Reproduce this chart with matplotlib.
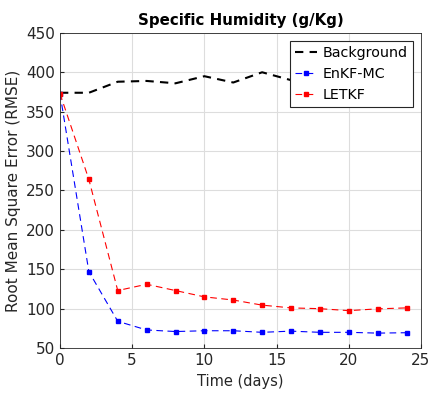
import matplotlib.pyplot as plt

# Tempo (dias) e RMSE de cada experimento
tempo = [0, 2, 4, 6, 8, 10, 12, 14, 16, 18, 20, 22, 24]
background = [374, 374, 388, 389, 386, 395, 387, 400, 390, 392, 388, 394, 390]
enkf_mc = [373, 147, 84, 73, 71, 72, 72, 70, 71.5, 70, 70, 69, 69.5]
letkf = [373, 264, 123, 131, 123, 115, 111, 104.5, 101, 100, 97.5, 99.8, 101]

plt.rcParams['font.family'] = ['DejaVu Sans']
fig = plt.figure(figsize=(4.3, 3.96), dpi=100)
ax = fig.add_axes([0.1395, 0.121, 0.8395, 0.796])

ax.plot(tempo, background, color='black', linestyle=(0, (4, 3)), linewidth=1.5, label='Background')
ax.plot(tempo, enkf_mc, color='blue', linestyle=(0, (6, 4)), linewidth=0.8,
        marker='s', markersize=2.2, label='EnKF-MC')
ax.plot(tempo, letkf, color='red', linestyle=(0, (6, 4)), linewidth=0.8,
        marker='s', markersize=2.2, label='LETKF')

ax.set_xlim(0, 25)
ax.set_ylim(50, 450)
ax.set_xticks(range(0, 26, 5))
ax.set_yticks(range(50, 451, 50))
ax.grid(True, color='#dddddd', linewidth=0.8)
ax.set_axisbelow(True)
ax.tick_params(direction='in', length=3, labelsize=11, colors='#262626')
for s in ax.spines.values():
    s.set_color('#262626')
    s.set_linewidth(0.6)

ax.set_title('Specific Humidity (g/Kg)', fontsize=10.8, fontweight='bold')
ax.set_xlabel('Time (days)', fontsize=10.5, color='#262626')
ax.set_ylabel('Root Mean Square Error (RMSE)', fontsize=11, color='#262626')

leg = ax.legend(loc='upper right', fontsize=10.3, fancybox=False, framealpha=1,
                edgecolor='#262626', handlelength=1.5, borderaxespad=0.55,
                handletextpad=0.45, labelspacing=0.5, borderpad=0.35)
leg.get_frame().set_linewidth(0.8)

plt.savefig('out.png', dpi=100)
